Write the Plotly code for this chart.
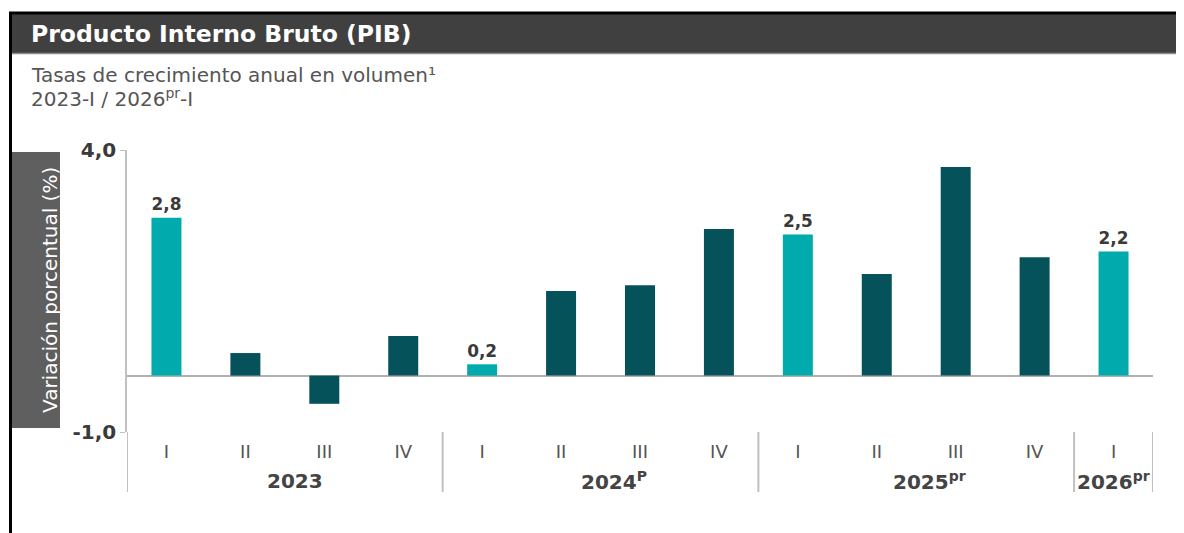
import plotly.graph_objects as go

years = ["2023"] * 4 + ["2024"] * 4 + ["2025"] * 4 + ["2026"]
quarters = ["I", "II", "III", "IV"] * 3 + ["I"]
values = [2.8, 0.4, -0.5, 0.7, 0.2, 1.5, 1.6, 2.6, 2.5, 1.8, 3.7, 2.1, 2.2]
year_names = ["2023", "2024", "2025", "2026"]
year_labels = ["2023", "2024<sup>P</sup>", "2025<sup>pr</sup>", "2026<sup>pr</sup>"]

teal = "#00AAAD"
dark = "#06525B"
colors = [teal if q == "I" else dark for q in quarters]
labels = [f"{v:.1f}".replace(".", ",") if q == "I" else "" for q, v in zip(quarters, values)]
cats = [f"{y}-{q}" for y, q in zip(years, quarters)]

FONT = "DejaVu Sans"
# plot area in screen pixels (page body adds an 8px offset)
OFF = 8
L, R, T, B = 127, 1153, 150, 432
year_shift = [10, 13, 13, 0]


def px(x):
    return (x - L) / (R - L)


def py(y):
    return (B - y) / (B - T)


fig = go.Figure()
fig.add_trace(go.Bar(
    x=cats, y=values,
    marker=dict(color=colors, line=dict(width=0)),
    width=0.38,
    text=labels, textposition="outside",
    textfont=dict(family=FONT, size=20, color="#3a3a3a", weight="bold"),
    cliponaxis=False,
))

# year labels and group dividers
bounds = [-0.5]
for name, lab, sh in zip(year_names, year_labels, year_shift):
    idx = [i for i, y in enumerate(years) if y == name]
    fig.add_annotation(text=f"<b>{lab}</b>", x=sum(idx) / len(idx), xref="x", yref="paper", y=py(481),
                       yanchor="middle", showarrow=False, xshift=sh,
                       font=dict(family=FONT, size=20, color="#444444"))
    bounds.append(idx[-1] + 0.5)
for b in bounds:
    fig.add_shape(type="line", xref="x", yref="paper", x0=b, x1=b, y0=py(492), y1=py(432),
                  line=dict(color="#c0c0c0", width=2))

# frame: title bar and borders
fig.add_shape(type="rect", xref="paper", yref="paper", x0=px(12), x1=px(1200), y0=py(53), y1=py(14),
              fillcolor="#404040", line=dict(width=0), layer="below")
fig.add_shape(type="line", xref="paper", yref="paper", x0=px(9), x1=px(1200), y0=py(13), y1=py(13),
              line=dict(color="#000", width=3))
fig.add_shape(type="line", xref="paper", yref="paper", x0=px(10.5), x1=px(10.5), y0=py(545), y1=py(12),
              line=dict(color="#000", width=3))
fig.add_shape(type="line", xref="paper", yref="paper", x0=px(12), x1=px(1200), y0=py(53.5), y1=py(53.5),
              line=dict(color="#8a8a8a", width=1.5))

# y-axis title box
fig.add_shape(type="rect", xref="paper", yref="paper", x0=px(12), x1=px(60), y0=py(428), y1=py(152),
              fillcolor="#5f5f5f", line=dict(width=0), layer="below")

fig.add_annotation(text="Producto Interno Bruto (PIB)", xref="paper", yref="paper",
                   x=px(29), y=py(34), xanchor="left", yanchor="middle", showarrow=False,
                   font=dict(family=FONT, size=23.5, color="#ffffff", weight=600))
fig.add_annotation(text="Tasas de crecimiento anual en volumen¹",
                   xref="paper", yref="paper", x=px(29), y=py(75), xanchor="left", yanchor="middle",
                   showarrow=False, font=dict(family=FONT, size=20, color="#555555"))
fig.add_annotation(text="2023-I / 2026<sup>pr</sup>-I",
                   xref="paper", yref="paper", x=px(29), y=py(98), xanchor="left", yanchor="middle",
                   showarrow=False, font=dict(family=FONT, size=20, color="#555555"))
fig.add_annotation(text="Variación porcentual (%)", xref="paper", yref="paper",
                   x=px(36), y=py(290), textangle=-90, showarrow=False,
                   font=dict(family=FONT, size=20, color="#ffffff"))

fig.update_layout(
    width=1184, height=533,
    margin=dict(l=L - OFF, r=1184 - R + OFF, t=T - OFF, b=533 - B + OFF),
    plot_bgcolor="white", paper_bgcolor="white",
    showlegend=False,
    xaxis=dict(
        type="category", range=[-0.5, len(cats) - 0.5], automargin=False,
        tickvals=cats, ticktext=quarters,
        showline=False, showgrid=False, ticks="", ticklabelstandoff=7,
        tickfont=dict(family=FONT, size=18, color="#555555"),
    ),
    yaxis=dict(
        range=[-1, 4], tickvals=[-1, 4], ticktext=["-1,0", "4,0"], automargin=False,
        showgrid=False, zeroline=True, zerolinecolor="#b0b0b0", zerolinewidth=1.5,
        showline=True, linecolor="#c0c0c0", linewidth=1.5,
        ticks="outside", ticklen=5, tickcolor="#c0c0c0",
        tickfont=dict(family=FONT, size=20, color="#3a3a3a", weight="bold"),
    ),
)

fig.write_html("out.html")
